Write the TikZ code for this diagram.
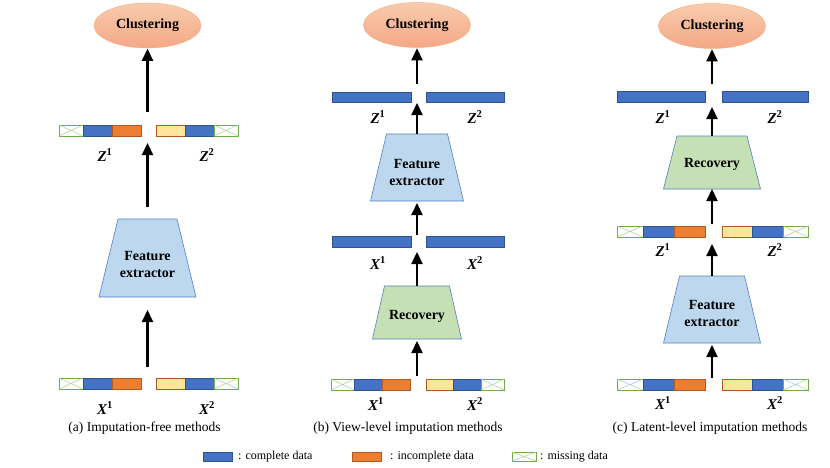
\documentclass[tikz,border=0pt]{standalone}
\usepackage{fontspec}
\setmainfont{Liberation Serif}
\usetikzlibrary{arrows.meta,shapes.geometric}
\definecolor{cblue}{HTML}{4472C4}
\definecolor{cblueD}{HTML}{2F528F}
\definecolor{corange}{HTML}{ED7D31}
\definecolor{corangeD}{HTML}{AE5A21}
\definecolor{cyellow}{HTML}{FFE699}
\definecolor{cgreen}{HTML}{70AD47}
\definecolor{cgreenL}{HTML}{A9D18E}
\definecolor{fefill}{HTML}{BDD7EE}
\definecolor{trline}{HTML}{4F81BD}
\definecolor{recfill}{HTML}{C5E0B4}
\definecolor{ellTop}{HTML}{F8CBAD}
\definecolor{ellBot}{HTML}{F4A886}
\definecolor{ellLine}{HTML}{F4B183}
\tikzset{
  blueseg/.style={fill=cblue,draw=cblueD,line width=0.5pt},
  orangeseg/.style={fill=corange,draw=corangeD,line width=0.5pt},
  yellowseg/.style={fill=cyellow,draw=corangeD,line width=0.5pt},
  missseg/.style={fill=white,draw=cgreen,line width=0.6pt},
  crossline/.style={draw=cgreenL,line width=0.5pt},
  fetrap/.style={fill=fefill,draw=trline,line width=0.6pt},
  rectrap/.style={fill=recfill,draw=trline,line width=0.6pt},
  trtext/.style={align=center,inner sep=0pt,font=\bfseries\fontsize{14}{17}\selectfont},
  clus/.style={ellipse,minimum width=107pt,minimum height=45pt,inner sep=0pt,
    top color=ellTop,bottom color=ellBot,draw=ellLine,line width=0.5pt,
    font=\bfseries\fontsize{14}{16}\selectfont},
  arr/.style={line width=2.2pt,-{Triangle[width=11pt,length=12pt]}},
  lab/.style={inner sep=0pt,font=\bfseries\itshape\fontsize{15}{17}\selectfont},
  captext/.style={inner sep=0pt,font=\fontsize{13.5}{15}\selectfont},
  legtext/.style={inner sep=0pt,anchor=west,font=\fontsize{12}{14}\selectfont},
}
\newcommand{\missbox}[4]{\draw[missseg] (#1,#2) rectangle (#3,#4);
  \draw[crossline] (#1,#2) -- (#3,#4) (#1,#4) -- (#3,#2);}
% left bar: y1 y2 x1 x2 x3 x4  (missing, blue, orange)
\newcommand{\leftbar}[6]{\missbox{#3}{#1}{#4}{#2}
  \draw[blueseg] (#4,#1) rectangle (#5,#2);
  \draw[orangeseg] (#5,#1) rectangle (#6,#2);}
% right bar: y1 y2 x1 x2 x3 x4  (yellow, blue, missing)
\newcommand{\rightbar}[6]{\draw[yellowseg] (#3,#1) rectangle (#4,#2);
  \draw[blueseg] (#4,#1) rectangle (#5,#2);
  \missbox{#5}{#1}{#6}{#2}}
% trapezoid: name cx ytop ybot halftop halfbot style text texty
\newcommand{\trap}[9]{\draw[#7] ({#2-#5},#3) -- ({#2+#5},#3) -- ({#2+#6},#4) -- ({#2-#6},#4) -- cycle;
  \node[trtext] (#1) at (#2,#9) {#8};
  \coordinate (#1-t) at (#2,#3);
  \coordinate (#1-b) at (#2,#4);}
\newcommand{\lbl}[5]{\node[lab] (#1) at (#2,#3) {#4\textsuperscript{\upshape #5}};}
\begin{document}
\begin{tikzpicture}[x=1pt,y=-1pt]
\useasboundingbox (0,0) rectangle (830,467);

% ---------------- (a) ----------------
\node[clus] (acl) at (147.5,25.5) {Clustering};
\leftbar{125}{136}{59}{83}{112}{141}
\rightbar{125}{136}{156}{185}{214}{238}
\leftbar{378}{389}{59}{83}{112}{141}
\rightbar{378}{389}{156}{185}{214}{238}
\trap{afe}{147.5}{219}{297}{29.5}{48.5}{fetrap}{Feature\\extractor}{264}
\lbl{az1}{105}{155}{Z}{1}
\lbl{az2}{207}{155}{Z}{2}
\lbl{ax1}{105}{408}{X}{1}
\lbl{ax2}{207}{408}{X}{2}
\coordinate (a-x) at (147.5,367);
\coordinate (a-z) at (147.5,143);
\coordinate (a-zt) at (147.5,112);
\draw[arr,shorten >=13pt] (a-x) -- (afe-b);
\draw[arr,shorten <=12pt] (afe-t) -- (a-z);
\draw[arr,shorten >=0.5pt] (a-zt) -- (acl.south);
\node[captext] (acap) at (144.5,428) {(a) Imputation-free methods};

% ---------------- (b) ----------------
\node[clus] (bcl) at (417,25) {Clustering};
\draw[blueseg] (332,92) rectangle (411,102);
\draw[blueseg] (426,92) rectangle (504,102);
\draw[blueseg] (332,236) rectangle (411,247);
\draw[blueseg] (426,236) rectangle (504,247);
\leftbar{379}{390}{331}{354}{382}{410}
\rightbar{379}{390}{426}{453}{481}{504}
\trap{bfe}{417}{134}{201}{30.5}{46.5}{fetrap}{Feature\\extractor}{172}
\trap{brec}{417}{286}{339}{32.5}{44.5}{rectrap}{Recovery}{316}
\lbl{bz1}{378}{117}{Z}{1}
\lbl{bz2}{475}{117}{Z}{2}
\lbl{bxm1}{378}{263}{X}{1}
\lbl{bxm2}{475}{263}{X}{2}
\lbl{bx1}{376}{404}{X}{1}
\lbl{bx2}{475}{404}{X}{2}
\coordinate (b-x) at (417,376);
\coordinate (b-xm) at (417,252);
\coordinate (b-xmt) at (417,235);
\coordinate (b-z) at (417,103);
\coordinate (b-zt) at (417,84);
\draw[arr,shorten >=2pt] (b-x) -- (brec-b);
\draw[arr] (brec-t) -- (b-xm);
\draw[arr,shorten >=2pt] (b-xmt) -- (bfe-b);
\draw[arr] (bfe-t) -- (b-z);
\draw[arr,shorten >=0.5pt] (b-zt) -- (bcl.south);
\node[captext] (bcap) at (408,428) {(b) View-level imputation methods};

% ---------------- (c) ----------------
\node[clus] (ccl) at (712,26) {Clustering};
\draw[blueseg] (617,91) rectangle (705,102);
\draw[blueseg] (722,91) rectangle (808,102);
\leftbar{226}{237}{617}{643}{674}{705}
\rightbar{226}{237}{722}{752}{783}{808}
\leftbar{379}{390}{617}{643}{674}{705}
\rightbar{379}{390}{722}{752}{783}{808}
\trap{crec}{712}{136}{189}{35}{48.5}{rectrap}{Recovery}{164}
\trap{cfe}{712}{276}{343}{32.5}{48.5}{fetrap}{Feature\\extractor}{313}
\lbl{cz1}{663}{117}{Z}{1}
\lbl{cz2}{775}{117}{Z}{2}
\lbl{czm1}{663}{250}{Z}{1}
\lbl{czm2}{775}{250}{Z}{2}
\lbl{cx1}{663}{403}{X}{1}
\lbl{cx2}{775}{403}{X}{2}
\coordinate (c-x) at (712,378);
\coordinate (c-zm) at (712,244);
\coordinate (c-zmt) at (712,224);
\coordinate (c-z) at (712,107);
\coordinate (c-zt) at (712,84);
\draw[arr,shorten >=2pt] (c-x) -- (cfe-b);
\draw[arr] (cfe-t) -- (c-zm);
\draw[arr] (c-zmt) -- (crec-b);
\draw[arr] (crec-t) -- (c-z);
\draw[arr,shorten >=0.5pt] (c-zt) -- (ccl.south);
\node[captext] (ccap) at (710,428) {(c) Latent-level imputation methods};

% ---------------- legend ----------------
\draw[blueseg] (203,452) rectangle (232,461);
\node[legtext] (lg1) at (238,457) {: complete data};
\draw[orangeseg] (352,452) rectangle (381,461);
\node[legtext] (lg2) at (390,457) {: incomplete data};
\missbox{512}{452}{536}{461}
\node[legtext] (lg3) at (540,457) {: missing data};
\end{tikzpicture}
\end{document}
